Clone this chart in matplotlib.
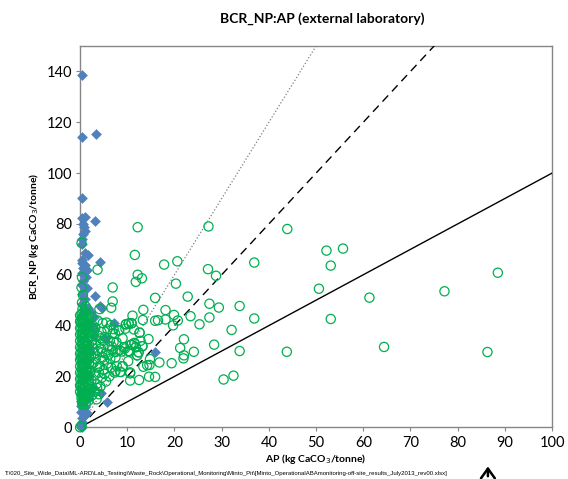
import matplotlib.pyplot as plt
from matplotlib.patches import FancyArrowPatch

# NP:AP reference ratios drawn as lines through the origin
ratios = [1, 2, 3]
ratio_styles = [('-', 'black', 1.0), ((0, (6, 4)), 'black', 1.0), (':', '#7f7f7f', 0.9)]

# blue diamonds (AP, NP)
ap_blue = [0.3, 0.3, 3.4, 0.3, 0.4, 1.0, 3.2, 0.6, 0.9, 1.1, 0.7, 0.4, 0.5, 4.3, 1.0,
           1.6, 0.5, 0.3, 1.0, 0.7, 1.5, 0.4, 1.2, 0.6, 0.3, 1.5, 3.1, 0.5, 1.0, 0.4,
           4.3, 4.6, 1.6, 2.3, 3.0, 0.6, 2.6, 1.8, 7.2, 15.9, 5.6,
           0.2, 0.5, 0.3, 0.8, 0.2, 0.6, 1.0, 0.3, 0.7, 1.2, 0.2, 1.5, 2.2, 1.8, 0.4,
           1.2, 2.0, 3.0, 1.8, 2.8, 4.5, 5.3, 2.8, 1.4, 0.9, 0.1, 0.1, 0.1]
np_blue = [138.6, 114.3, 115.2, 90.3, 82.5, 82.7, 81.3, 80.0, 78.8, 77.2, 76.0, 74.0, 72.0, 64.9, 68.7,
           67.6, 66.0, 64.5, 63.8, 62.5, 61.8, 60.5, 59.2, 57.5, 56.0, 54.8, 51.6, 52.5, 50.5, 48.5,
           47.8, 46.8, 47.0, 45.2, 43.5, 44.5, 39.7, 39.6, 40.9, 29.6, 10.1,
           1.0, 2.0, 3.5, 4.5, 6.0, 7.0, 8.0, 9.5, 11.0, 12.0, 13.0, 5.5, 13.5, 11.5, 0.3,
           25.0, 30.0, 36.0, 20.0, 16.0, 13.5, 35.0, 38.5, 42.0, 46.0, 8.5, 10.5, 12.5]

# green open circles (AP, NP)
ap_green = [
    # dense core near AP 0-2
    0.3, 0.3, 0.3, 0.3, 0.3, 0.3, 0.3, 0.3, 0.3, 0.3, 0.3, 0.3, 0.3, 0.3, 0.3, 0.3,
    0.9, 0.9, 0.9, 0.9, 0.9, 0.9, 0.9, 0.9, 0.9, 0.9, 0.9, 0.9, 0.9, 0.9, 0.9, 0.9, 0.9,
    1.5, 1.5, 1.5, 1.5, 1.5, 1.5, 1.5, 1.5, 1.5, 1.5,
    0.1, 0.6, 1.2, 0.2, 0.7, 1.1, 0.4, 1.3, 0.1, 0.8, 1.2, 0.5,
    0.0, 0.0, 0.0, 0.0, 0.0, 0.0, 0.0, 0.0, 0.0, 0.0, 0.0, 0.0, 0.0,
    0.6, 0.6, 0.6, 0.6, 0.6, 0.6, 0.6, 0.6, 0.6, 0.6, 0.6, 0.6, 0.6, 0.6, 0.6, 0.6,
    1.2, 1.2, 1.2, 1.2, 1.2, 1.2, 1.2, 1.2, 1.2, 1.2, 1.2, 1.2, 1.2, 1.2, 1.2,
    1.9, 1.9, 1.9, 1.9, 1.9, 1.9, 1.9, 1.9, 1.9, 1.9, 1.9,
    0.4, 0.8, 0.5, 1.0, 0.3, 0.7,
    # AP 2-13 spread
    2.1, 2.4, 2.2, 2.6, 2.3, 2.8, 2.5, 2.2, 2.7, 2.4,
    3.2, 3.5, 3.1, 3.6, 3.3, 3.8, 3.4, 3.9, 3.2, 3.7,
    4.3, 4.6, 4.2, 4.8, 4.4, 4.9, 4.5, 4.8, 4.1,
    5.5, 5.2, 5.7, 5.4, 5.9, 5.3, 5.8, 5.6,
    6.2, 6.6, 6.4, 6.8, 6.3, 6.9, 6.5,
    7.3, 7.8, 7.5, 8.0, 7.7, 7.4, 8.2,
    8.5, 9.0, 8.8, 9.3, 9.0, 9.6,
    10.2, 10.6, 10.5, 10.9, 10.3, 10.9, 9.7,
    11.5, 11.8, 12.1, 12.4, 11.4, 12.6, 13.2, 12.8,
    2.9, 3.1, 4.0, 4.7, 5.1, 2.6, 3.6, 4.4, 5.0, 6.0, 2.0, 3.0,
    1.2, 1.8, 2.5, 3.5, 4.0, 0.5, 0.0, 0.3,
    # upper left isolated
    0.3, 0.4, 0.3, 0.4, 0.6, 0.5, 0.3, 3.7, 6.9, 6.9, 6.6, 1.2, 1.8,
    # mid and far points
    12.2, 27.2, 43.9, 11.6, 17.8, 20.6, 36.9, 52.2, 55.7, 53.1, 88.5, 27.1, 28.8,
    12.2, 13.1, 11.8, 20.3, 50.6, 77.2, 61.3, 22.8, 15.9, 27.4, 29.4, 33.8,
    13.4, 18.1, 19.9, 11.1, 23.4, 27.4, 36.9, 53.1, 16.5, 15.9, 18.1, 20.7, 25.3,
    19.7, 13.3, 10.3, 10.9, 9.7, 7.1, 8.3, 12.6, 14.5, 22.0, 28.4, 32.1, 33.8,
    43.8, 64.4, 86.3, 24.1, 21.2, 22.0, 21.9, 19.4, 16.8, 14.8, 14.2, 13.4, 14.7,
    14.6, 15.9, 30.4, 32.5, 12.5, 10.6, 10.6, 8.6, 7.5, 9.0, 7.1, 11.5, 10.7,
    13.2, 12.4, 9.5, 10.2, 8.4, 7.5, 6.7, 11.8, 12.1, 10.5]
np_green = [
    13, 15, 17, 19, 21, 23, 25, 27, 29, 31, 33, 35, 37, 39, 41, 43,
    12, 14, 16, 18, 20, 22, 24, 26, 28, 30, 32, 34, 36, 38, 40, 42, 44,
    14, 17, 20, 23, 26, 29, 32, 35, 38, 41,
    16, 19.5, 22.5, 27.5, 30.5, 33.5, 36, 39, 42, 25, 18, 45,
    14, 16.5, 19, 21.5, 24, 26.5, 29, 31.5, 34, 36.5, 39, 41.5, 44,
    13, 15, 17, 19, 21, 23, 25, 27, 29, 31, 33, 35, 37, 39, 41, 43,
    13, 15.5, 18, 20.5, 23, 25.5, 28, 30.5, 33, 35.5, 38, 40.5, 43, 45, 11,
    15, 17.5, 20, 22.5, 25, 27.5, 30, 32.5, 35, 37.5, 40,
    10, 11, 9, 12, 11.5, 10,
    15, 18.5, 22, 25, 28, 31, 34, 37, 40, 43.5,
    14, 17, 20.5, 23.5, 27, 30, 33, 36, 39, 42,
    16, 19.5, 24, 27.5, 31, 34, 37.5, 41, 46.5,
    18, 21, 25, 29, 32, 35.5, 38.5, 41.2,
    20, 23.5, 27, 30.5, 34, 37, 40.2,
    21.5, 24, 27.5, 30, 33.5, 36.8, 38,
    21.8, 24, 29.8, 31.5, 35, 38.8,
    26, 21.2, 29.8, 32.5, 40.8, 40.9, 40.5,
    33.2, 31.5, 28.3, 29.5, 38.5, 37.2, 31.9, 34,
    25.5, 29, 21.5, 29.5, 26.5, 32.5, 15.5, 35, 22.5, 28.5, 27, 38,
    9, 10.5, 12.5, 11, 13, 10.5, 0.0, 0.5,
    72.5, 59, 55, 49, 52, 46.5, 44.5, 62, 55, 49.5, 47, 47.5, 44,
    78.7, 79.0, 78.0, 67.8, 64.0, 65.3, 64.8, 69.5, 70.3, 63.6, 60.8, 62.2, 59.6,
    60.0, 58.6, 57.2, 56.5, 54.5, 53.5, 51.0, 51.4, 50.9, 48.6, 47.1, 47.7,
    46.2, 46.1, 44.2, 43.9, 43.7, 43.2, 42.8, 42.6, 42.1, 41.9, 42.4, 42.0, 40.5,
    40.1, 42.2, 40.8, 40.9, 40.5, 38.6, 38.2, 37.2, 34.7, 34.6, 32.5, 38.3, 30.0,
    29.7, 31.6, 29.6, 29.7, 31.2, 28.3, 27.1, 25.2, 25.5, 26.8, 24.4, 23.8, 24.5,
    19.9, 19.8, 18.8, 20.3, 18.6, 18.4, 21.6, 21.7, 22.1, 24.0, 33.5, 33.0, 32.4,
    31.9, 29.5, 31.0, 30.0, 30.3, 29.6, 31.8, 31.5, 28.3, 29.8]

x_ticks = [0, 10, 20, 30, 40, 50, 60, 70, 80, 90, 100]
y_ticks = [0, 20, 40, 60, 80, 100, 120, 140]

plt.rcParams['font.family'] = ['Lato', 'DejaVu Sans']

fig = plt.figure(figsize=(5.68, 4.79), dpi=100)
ax = fig.add_axes([0.141, 0.108, 0.831, 0.796])

for r, (ls, col, lw) in zip(ratios, ratio_styles):
    ax.plot([0, 100], [0, 100 * r], linestyle=ls, color=col, lw=lw, zorder=1)

ax.scatter(ap_blue, np_blue, marker='D', s=30, color='#4f81bd', linewidths=0,
           zorder=2, clip_on=False)
ax.scatter(ap_green, np_green, marker='o', s=44, facecolors='none',
           edgecolors='#00b050', linewidths=0.9, zorder=3, clip_on=False)

ax.set_xlim(0, 100)
ax.set_ylim(0, 150)
ax.set_xticks(x_ticks)
ax.set_yticks(y_ticks)
ax.tick_params(direction='out', length=3, width=0.8, color='#868686',
               labelsize=10.5, pad=3)
for sp in ax.spines.values():
    sp.set_color('#868686')
    sp.set_linewidth(1.0)
    sp.set_zorder(0.5)

ax.set_xlabel('AP (kg CaCO$_3$/tonne)', fontsize=7.5, fontweight='bold', labelpad=2)
ax.set_ylabel('BCR_NP (kg CaCO$_3$/tonne)', fontsize=7.5, fontweight='bold', labelpad=4)

fig.text(0.567, 0.962, 'BCR_NP:AP (external laboratory)', ha='center', va='center',
         fontsize=10, fontweight='bold')
fig.text(0.008, 0.011, 'T:\\020_Site_Wide_Data\\ML-ARD\\Lab_Testing\\Waste_Rock\\Operational_Monitoring'
         '\\Minto_Pit\\[Minto_OperationalABAmonitoring-off-site_results_July2013_rev00.xlsx]',
         fontsize=4.3, family='Liberation Sans', va='center', ha='left')
fig.patches.append(FancyArrowPatch(
    (0.859, 0.0), (0.859, 0.032), transform=fig.transFigure,
    arrowstyle='->,head_length=7,head_width=5', lw=1.8, color='black'))

plt.savefig('out.png', dpi=100)
